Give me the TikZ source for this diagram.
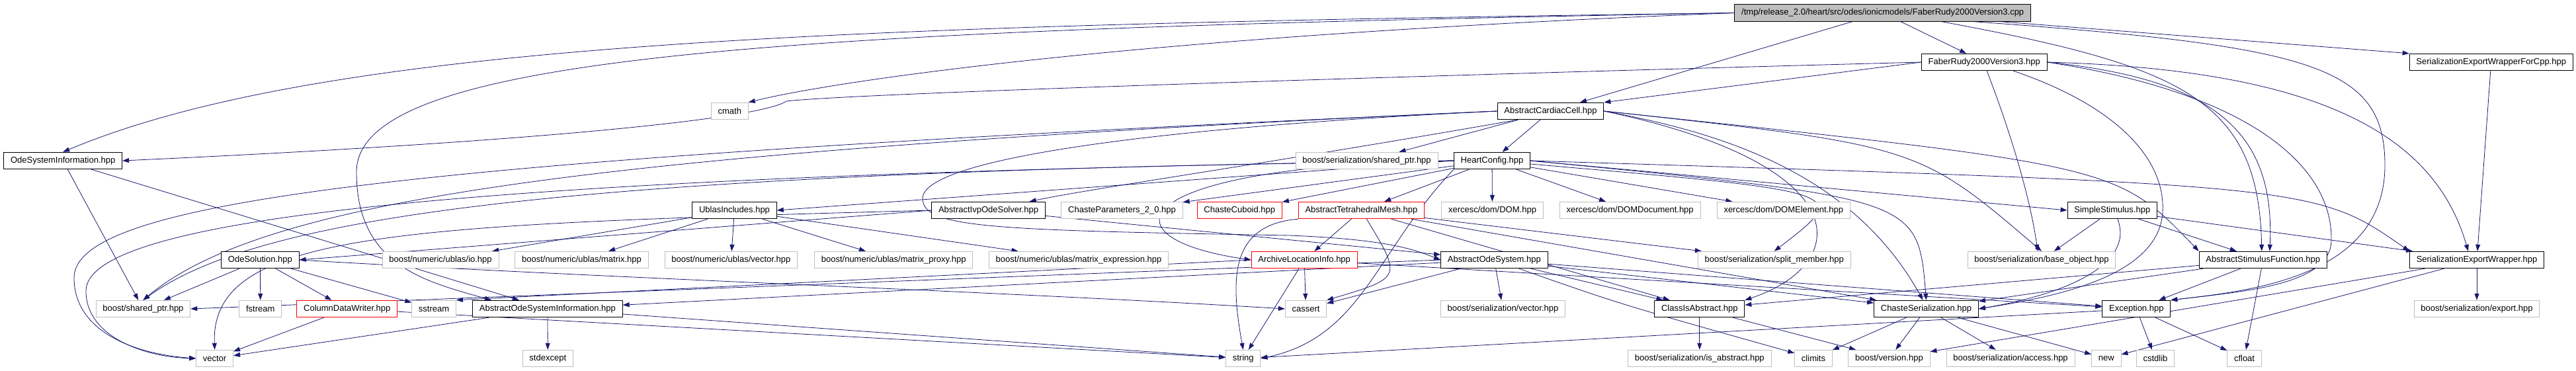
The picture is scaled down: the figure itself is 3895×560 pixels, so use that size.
\documentclass[tikz,border=0pt]{standalone}
\usepackage{fontspec}
\setmainfont{Liberation Sans}
\usetikzlibrary{arrows.meta, backgrounds}
\definecolor{edgeblue}{rgb}{0.1, 0.1, 0.44}
\definecolor{sysgray}{rgb}{0.75, 0.75, 0.75}

\begin{document}
\begin{tikzpicture}[x=1pt, y=1pt,
    every node/.style={font=\fontsize{13}{15}\selectfont},
    hdr/.style={draw=black, fill=white, line width=0.9pt, minimum height=25.5pt, inner xsep=10.3pt, inner ysep=0pt},
    syshdr/.style={hdr, draw=sysgray},
    redhdr/.style={hdr, draw=red},
    rootbox/.style={hdr, fill=sysgray},
    dep/.style={draw=edgeblue, line width=0.8pt, -{Triangle[length=10pt, width=7pt]}}
  ]
  \useasboundingbox (0,0) rectangle (3895,-560);

  % row 0 and 1
  \node[rootbox] (rt) at (2846.7,-19.5) {/tmp/release\_2.0/heart/src/odes/ionicmodels/FaberRudy2000Version3.cpp};
  \node[hdr] (frh) at (3000.2,-94) {FaberRudy2000Version3.hpp};
  \node[hdr] (sewcpp) at (3766.7,-94) {SerializationExportWrapperForCpp.hpp};

  % row 2 and 3
  \node[syshdr] (cmath) at (1103.3,-168) {cmath};
  \node[hdr] (acc) at (2344.5,-168) {AbstractCardiacCell.hpp};
  \node[hdr] (osi) at (95.2,-243) {OdeSystemInformation.hpp};
  \node[syshdr] (shpser) at (2066.5,-243) {boost/serialization/shared\_ptr.hpp};
  \node[hdr] (hc) at (2256,-243) {HeartConfig.hpp};

  % row 4
  \node[hdr] (ublas) at (1110.5,-318) {UblasIncludes.hpp};
  \node[hdr] (aivp) at (1494.5,-318) {AbstractIvpOdeSolver.hpp};
  \node[syshdr] (cpar) at (1696.5,-318) {ChasteParameters\_2\_0.hpp};
  \node[redhdr] (cub) at (1874.3,-318) {ChasteCuboid.hpp};
  \node[redhdr] (atm) at (2058.4,-318) {AbstractTetrahedralMesh.hpp};
  \node[syshdr] (dom) at (2256.5,-318) {xercesc/dom/DOM.hpp};
  \node[syshdr] (domdoc) at (2464.6,-318) {xercesc/dom/DOMDocument.hpp};
  \node[syshdr] (domel) at (2696.8,-318) {xercesc/dom/DOMElement.hpp};
  \node[hdr] (ss) at (3193.8,-318) {SimpleStimulus.hpp};

  % row 5
  \node[hdr] (odesol) at (393.4,-393) {OdeSolution.hpp};
  \node[syshdr] (io) at (666,-393) {boost/numeric/ublas/io.hpp};
  \node[syshdr] (matrix) at (879.5,-393) {boost/numeric/ublas/matrix.hpp};
  \node[syshdr] (uvec) at (1105.4,-393) {boost/numeric/ublas/vector.hpp};
  \node[syshdr] (proxy) at (1351.2,-393) {boost/numeric/ublas/matrix\_proxy.hpp};
  \node[syshdr] (expr) at (1631,-393) {boost/numeric/ublas/matrix\_expression.hpp};
  \node[redhdr] (ali) at (1972.2,-393) {ArchiveLocationInfo.hpp};
  \node[hdr] (aos) at (2259.3,-393) {AbstractOdeSystem.hpp};
  \node[syshdr] (split) at (2682.7,-393) {boost/serialization/split\_member.hpp};
  \node[syshdr] (baseobj) at (3087,-393) {boost/serialization/base\_object.hpp};
  \node[hdr] (asf) at (3421.8,-393) {AbstractStimulusFunction.hpp};
  \node[hdr] (sew) at (3745,-393) {SerializationExportWrapper.hpp};

  % row 6
  \node[syshdr] (bshptr) at (216.4,-467) {boost/shared\_ptr.hpp};
  \node[syshdr] (fstream) at (393.8,-467) {fstream};
  \node[redhdr] (cdw) at (524.8,-467) {ColumnDataWriter.hpp};
  \node[syshdr] (sstream) at (656,-467) {sstream};
  \node[hdr] (aosi) at (827.9,-467) {AbstractOdeSystemInformation.hpp};
  \node[syshdr] (cassert) at (1974.5,-467) {cassert};
  \node[syshdr] (vecser) at (2272.5,-467) {boost/serialization/vector.hpp};
  \node[hdr] (cia) at (2569.8,-467) {ClassIsAbstract.hpp};
  \node[hdr] (chs) at (2912.5,-467) {ChasteSerialization.hpp};
  \node[hdr] (exc) at (3230.3,-467) {Exception.hpp};
  \node[syshdr] (export) at (3745,-467) {boost/serialization/export.hpp};

  % row 7
  \node[syshdr] (vector) at (324.6,-542) {vector};
  \node[syshdr] (stdexcept) at (828.3,-542) {stdexcept};
  \node[syshdr] (string) at (1879.7,-542) {string};
  \node[syshdr] (isabs) at (2569.8,-542) {boost/serialization/is\_abstract.hpp};
  \node[syshdr] (climits) at (2742,-542) {climits};
  \node[syshdr] (version) at (2856.4,-542) {boost/version.hpp};
  \node[syshdr] (access) at (3040,-542) {boost/serialization/access.hpp};
  \node[syshdr] (new) at (3184.8,-542) {new};
  \node[syshdr] (cstdlib) at (3259,-542) {cstdlib};
  \node[syshdr] (cfloat) at (3393.5,-542) {cfloat};

  \begin{scope}[on background layer]
    % root
    \draw[dep] (rt) -- (frh);
    \draw[dep] ([xshift=-46pt]rt.south) -- (acc);
    \draw[dep] (rt.west) .. controls (1700,-55) and (1250,-125) .. (cmath.north east);
    \draw[dep] (rt.west) .. controls (1300,-38) and (500,-60) .. (osi.north);
    \draw[dep] (rt.west) .. controls (1200,-45) and (539,-80) .. (539,-260)
      .. controls (539,-400) and (640,-425) .. ([xshift=-85pt]aosi.north);
    \draw[dep] ([xshift=178pt]rt.south) -- (sewcpp.north west);
    \draw[dep] ([xshift=89pt]rt.south) .. controls (3300,-100) and (3415,-150) .. ([xshift=-2pt]asf.north);
    \draw[dep] ([xshift=138pt]rt.south) .. controls (3500,-70) and (3606,-100) .. (3606,-250)
      .. controls (3606,-420) and (3400,-440) .. (exc.north east);
    % FaberRudy2000Version3.hpp
    \draw[dep] (frh.west) -- (acc.north east);
    \draw[dep] (frh.west) .. controls (2300,-110) and (1300,-140) .. (1189,-153)
      .. controls (1150,-180) and (800,-215) .. (osi.east);
    \draw[dep] ([xshift=4pt]frh.south) .. controls (3040,-200) and (3070,-300) .. ([xshift=-6pt]baseobj.north);
    \draw[dep] ([xshift=44pt]frh.south) .. controls (3200,-160) and (3274,-240) .. (3270,-320)
      .. controls (3265,-420) and (3100,-450) .. (chs.east);
    \draw[dep] (frh.east) .. controls (3350,-120) and (3440,-200) .. ([xshift=10pt]asf.north);
    \draw[dep] (frh.east) .. controls (3400,-140) and (3525,-250) .. (3525,-360)
      .. controls (3528,-430) and (3400,-440) .. (exc.north east);
    \draw[dep] (frh.east) .. controls (3500,-105) and (3680,-200) .. ([xshift=-13pt]sew.north);
    \draw[dep] (sewcpp) -- (sew);
    % AbstractCardiacCell.hpp
    \draw[dep] (acc) -- (shpser);
    \draw[dep] (acc) -- (hc);
    \draw[dep] ([xshift=-50pt]acc.south) .. controls (1900,-250) and (1650,-285) .. ([xshift=62pt]aivp.north);
    \draw[dep] (acc.west) .. controls (1700,-195) and (1395,-245) .. (1395,-300)
      .. controls (1395,-345) and (1500,-348) .. (1950,-356)
      .. controls (2100,-362) and (2140,-378) .. (aos.west);
    \draw[dep] (acc.east) .. controls (3200,-250) .. (asf.north west);
    \draw[dep] (acc.east) .. controls (2600,-200) and (2800,-260) .. ([xshift=-5pt]chs.north);
    \draw[dep] (acc.east) .. controls (2815,-250) and (2800,-400) .. (cia.north east);
    \draw[dep] (acc.east) .. controls (2900,-220) .. (baseobj.north);
    \draw[dep] (acc.west) .. controls (650,-240) and (112,-300) .. (112,-420)
      .. controls (112,-500) and (200,-535) .. (vector.west);
    \draw[dep] (acc.west) .. controls (900,-230) and (400,-300) .. (bshptr.north);
    % HeartConfig.hpp
    \draw[dep] (hc.west) -- (ublas.east);
    \draw[dep] (hc) -- (cpar);
    \draw[dep] (hc) -- (cub);
    \draw[dep] (hc) -- (atm);
    \draw[dep] (hc) -- (dom);
    \draw[dep] (hc) -- (domdoc);
    \draw[dep] (hc) -- (domel);
    \draw[dep] (hc) .. controls (2800,-290) .. (split.north);
    \draw[dep] (hc.east) .. controls (2900,-300) .. (chs.north);
    \draw[dep] (hc.east) .. controls (3500,-280) .. (sew.north west);
    \draw[dep] (hc.east) -- (ss.west);
    \draw[dep] (hc.west) .. controls (900,-260) and (400,-320) .. (bshptr.north);
    \draw[dep] (hc.west) .. controls (700,-265) and (130,-330) .. (130,-440)
      .. controls (130,-510) and (220,-540) .. (vector.west);
    \draw[dep] (hc.south west) .. controls (2080,-380) and (2060,-510) .. (string.east);
    \draw[dep] (hc.west) .. controls (1700,-250) and (1660,-360) .. (ali.west);
    % UblasIncludes.hpp
    \draw[dep] (ublas) -- (io);
    \draw[dep] (ublas) -- (matrix);
    \draw[dep] (ublas) -- (uvec);
    \draw[dep] (ublas) -- (proxy);
    \draw[dep] (ublas) -- (expr);
    % AbstractIvpOdeSolver.hpp
    \draw[dep] (aivp.west) -- (odesol.east);
    \draw[dep] (aivp) -- (aos);
    \draw[dep] (aivp.west) .. controls (600,-340) and (318,-350) .. (vector.north);
    % OdeSolution.hpp and OdeSystemInformation.hpp
    \draw[dep] (odesol) -- (bshptr);
    \draw[dep] (odesol) -- (fstream);
    \draw[dep] (odesol) -- (cdw);
    \draw[dep] (odesol) -- (sstream);
    \draw[dep] (odesol.east) .. controls (900,-420) and (1500,-440) .. (cassert.west);
    \draw[dep] (osi) -- (bshptr);
    \draw[dep] (osi) -- (aosi);
    % AbstractOdeSystemInformation.hpp and ColumnDataWriter.hpp
    \draw[dep] (aosi) -- (vector);
    \draw[dep] (aosi) -- (string);
    \draw[dep] (aosi) -- (stdexcept);
    \draw[dep] (cdw) -- (vector);
    \draw[dep] (cdw) -- (string);
    % AbstractTetrahedralMesh.hpp and ArchiveLocationInfo.hpp
    \draw[dep] (atm) -- (ali);
    \draw[dep] (atm) .. controls (2120,-420) .. (cassert.north east);
    \draw[dep] (atm.south west) .. controls (1860,-340) and (1860,-420) .. (string.north);
    \draw[dep] (atm) -- (chs);
    \draw[dep] (atm) -- (cia);
    \draw[dep] (atm) -- (split);
    \draw[dep] (ali) -- (cassert);
    \draw[dep] (ali) -- (string);
    \draw[dep] (ali.west) -- (sstream.north east);
    \draw[dep] (ali) -- (exc);
    % AbstractOdeSystem.hpp
    \draw[dep] (aos) -- (cassert);
    \draw[dep] (aos) -- (vecser);
    \draw[dep] (aos) -- (cia);
    \draw[dep] (aos) -- (chs);
    \draw[dep] (aos) -- (exc);
    \draw[dep] (aos) -- (aosi);
    \draw[dep] (aos.west) -- (bshptr.east);
    \draw[dep] (aos) .. controls (2450,-460) .. (climits);
    % ClassIsAbstract.hpp and ChasteSerialization.hpp
    \draw[dep] (cia) -- (isabs);
    \draw[dep] (cia) -- (version);
    \draw[dep] (chs) -- (climits);
    \draw[dep] (chs) -- (version);
    \draw[dep] (chs) -- (access);
    \draw[dep] (chs) -- (new);
    % Exception.hpp
    \draw[dep] (exc) -- (string);
    \draw[dep] (exc) -- (cstdlib);
    \draw[dep] (exc) -- (cfloat);
    % AbstractStimulusFunction.hpp and SimpleStimulus.hpp
    \draw[dep] (asf) -- (exc);
    \draw[dep] (asf) -- (cfloat);
    \draw[dep] (asf) -- (chs);
    \draw[dep] (asf) -- (cia);
    \draw[dep] (ss) -- (baseobj);
    \draw[dep] (ss) -- (asf);
    \draw[dep] ([xshift=8pt]ss.south) .. controls (3225,-390) and (3150,-440) .. (chs.east);
    \draw[dep] (ss) -- (sew);
    % SerializationExportWrapper.hpp
    \draw[dep] (sew) -- (export);
    \draw[dep] (sew) -- (version);
    \draw[dep] (sew) -- (new);
  \end{scope}
\end{tikzpicture}
\end{document}
